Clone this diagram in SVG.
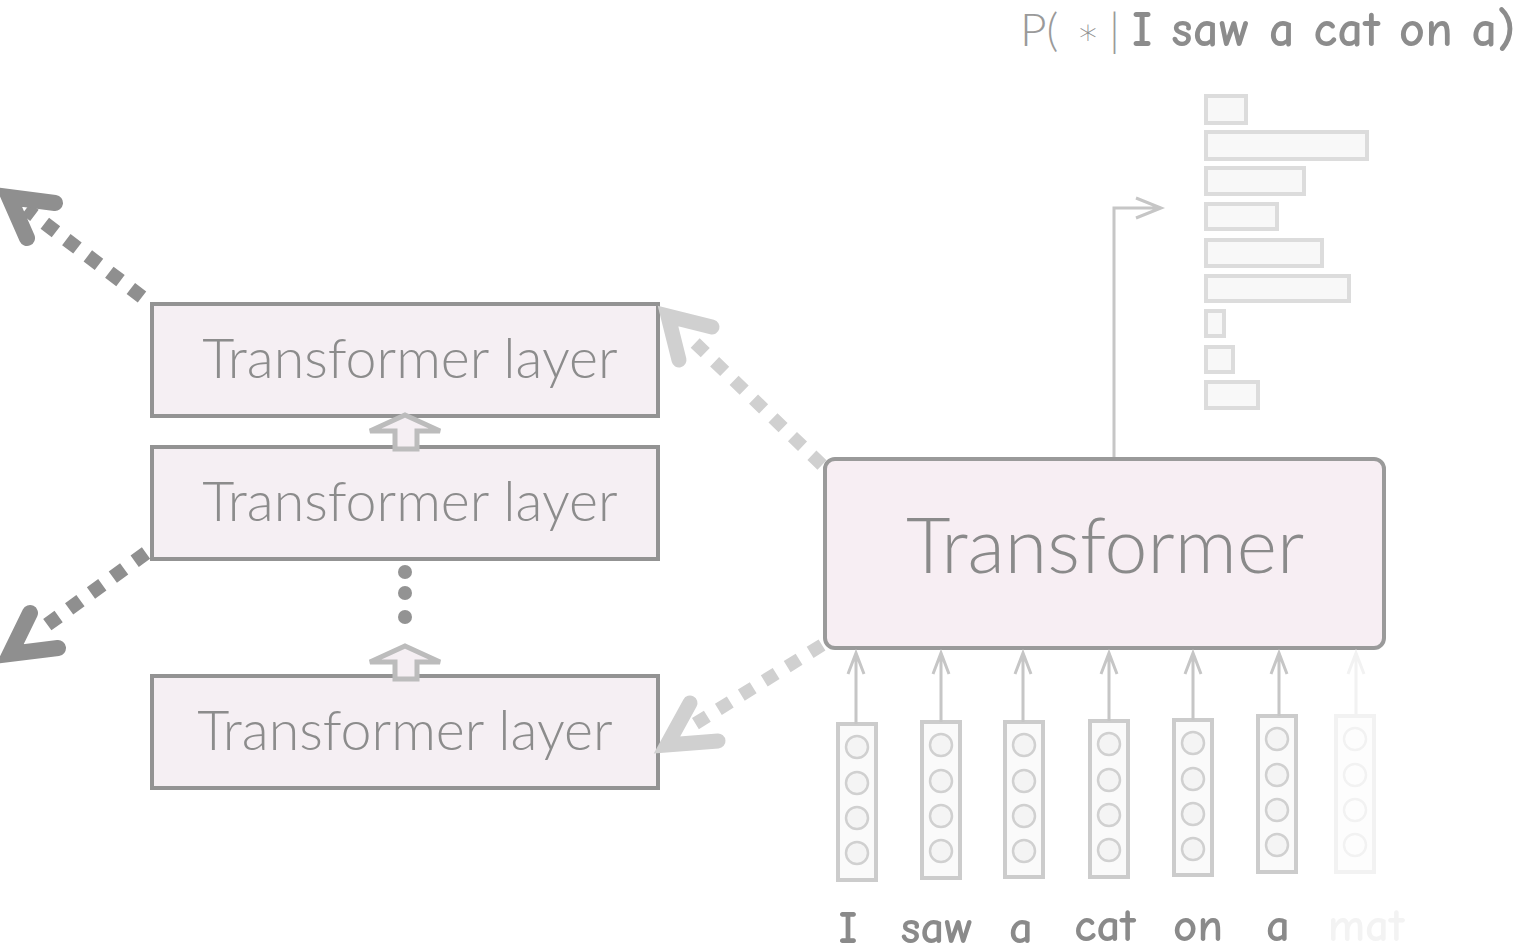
<svg xmlns="http://www.w3.org/2000/svg" width="1519" height="952" viewBox="0 0 1519 952">
  <style>
    .layer rect { fill: #f5eff3; stroke: #939393; stroke-width: 4; }
    .layer text { font-family: Lato, "Open Sans", sans-serif; font-weight: 300; font-size: 55.5px; fill: #8c8c8c; text-anchor: middle; }
    .hollow { fill: #f5eff3; stroke: #bcbcbc; stroke-width: 5; stroke-linejoin: miter; }
    .dots circle { fill: #939393; }
    .dash-dark { stroke: #8f8f8f; stroke-width: 14; stroke-dasharray: 14 13; fill: none; }
    .dash-light { stroke: #d0d0d0; stroke-width: 13; stroke-dasharray: 14 13; fill: none; }
    .head-dark { stroke: #8f8f8f; stroke-width: 16; fill: none; stroke-linecap: round; stroke-linejoin: miter; stroke-miterlimit: 10; }
    .head-light { stroke: #d0d0d0; stroke-width: 15; fill: none; stroke-linecap: round; stroke-linejoin: miter; stroke-miterlimit: 10; }
    .vec rect { fill: #fafafa; stroke: #cccccc; stroke-width: 4; }
    .vec circle { fill: #f4f4f4; stroke: #d0d0d0; stroke-width: 2.5; }
    .vec.faint rect, .vec.faint circle { stroke: #f2f2f2; fill: #fdfdfd; }
    .in-arrow { stroke: #c6c6c6; stroke-width: 3; fill: none; }
    .in-arrow.faint { stroke: #f2f2f2; }
    .word { font-family: "Comic Neue", "DejaVu Sans", sans-serif; font-weight: 700; font-size: 47px; fill: #8a8a8a; text-anchor: middle; }
    .word.faint { fill: #f3f3f3; }
    .bar { fill: #f8f8f8; stroke: #dcdcdc; stroke-width: 4; }
  </style>
  <defs>
    <filter id="soft" x="-5%" y="-5%" width="110%" height="110%">
      <feGaussianBlur stdDeviation="0.7"/>
    </filter>
  </defs>

  <rect width="1519" height="952" fill="#ffffff"/>

  <!-- left: stack of transformer layers -->
  <g id="layer-top" class="layer">
    <rect x="152" y="304" width="506" height="112"/>
    <text x="410" y="378">Transformer layer</text>
  </g>
  <g id="layer-mid" class="layer">
    <rect x="152" y="447" width="506" height="112"/>
    <text x="410" y="521">Transformer layer</text>
  </g>
  <g id="layer-bottom" class="layer">
    <rect x="152" y="676" width="506" height="112"/>
    <text x="405" y="750">Transformer layer</text>
  </g>

  <!-- hollow arrows between layers -->
  <g id="stack-flow">
    <path class="hollow" d="M405,415 L440,431 L417,431 L417,449 L395,449 L395,431 L370,431 Z"/>
    <path class="hollow" d="M405,646 L440,662 L417,662 L417,679 L395,679 L395,662 L370,662 Z"/>
    <g class="dots">
      <circle cx="405" cy="572" r="7"/>
      <circle cx="405" cy="593" r="7"/>
      <circle cx="405" cy="617" r="7"/>
    </g>
  </g>

  <!-- right: transformer with inputs and output distribution -->
  <g id="transformer" filter="url(#soft)">
    <rect x="825" y="459" width="559" height="189" rx="10" fill="#f7eef3" stroke="#9a9a9a" stroke-width="4"/>
    <text x="1105" y="573" font-family="Lato, 'Open Sans', sans-serif" font-weight="300" font-size="77" fill="#8a8a8a" text-anchor="middle">Transformer</text>
  </g>

  <g id="distribution" filter="url(#soft)">
    <rect class="bar" x="1206" y="96" width="40" height="27"/>
    <rect class="bar" x="1206" y="132" width="161" height="27"/>
    <rect class="bar" x="1206" y="168" width="98" height="26"/>
    <rect class="bar" x="1206" y="204" width="71" height="25"/>
    <rect class="bar" x="1206" y="240" width="116" height="26"/>
    <rect class="bar" x="1206" y="276" width="143" height="25"/>
    <rect class="bar" x="1206" y="311" width="18" height="25"/>
    <rect class="bar" x="1206" y="347" width="27" height="25"/>
    <rect class="bar" x="1206" y="382" width="52" height="26"/>
  </g>

  <g id="output-label">
    <text x="1020" y="46" font-size="46" fill="#9a9a9a" font-family="Lato, sans-serif" font-weight="300">P(<tspan font-family="'DejaVu Sans', sans-serif" font-size="36" fill="#8f8f8f" dx="18" dy="-2">∗</tspan><tspan dx="10" dy="2">|</tspan><tspan dx="12" font-family="'Comic Neue', 'DejaVu Sans', sans-serif" font-weight="700" font-size="50" fill="#8c8c8c" letter-spacing="0.6">I saw a cat on a)</tspan></text>
  </g>

  <g id="inputs" filter="url(#soft)">
    <g id="vec-1" class="vec">
      <rect x="838" y="724" width="38" height="156"/>
      <circle cx="857" cy="747" r="11"/><circle cx="857" cy="783" r="11"/><circle cx="857" cy="818" r="11"/><circle cx="857" cy="853" r="11"/>
      <text class="word" x="848" y="943">I</text>
    </g>
    <g id="vec-2" class="vec">
      <rect x="922" y="722" width="38" height="156"/>
      <circle cx="941" cy="745" r="11"/><circle cx="941" cy="781" r="11"/><circle cx="941" cy="816" r="11"/><circle cx="941" cy="851" r="11"/>
      <text class="word" x="937" y="943">saw</text>
    </g>
    <g id="vec-3" class="vec">
      <rect x="1005" y="722" width="38" height="155"/>
      <circle cx="1024" cy="745" r="11"/><circle cx="1024" cy="781" r="11"/><circle cx="1024" cy="816" r="11"/><circle cx="1024" cy="851" r="11"/>
      <text class="word" x="1021" y="943">a</text>
    </g>
    <g id="vec-4" class="vec">
      <rect x="1090" y="721" width="38" height="156"/>
      <circle cx="1109" cy="744" r="11"/><circle cx="1109" cy="780" r="11"/><circle cx="1109" cy="815" r="11"/><circle cx="1109" cy="850" r="11"/>
      <text class="word" x="1105" y="941">cat</text>
    </g>
    <g id="vec-5" class="vec">
      <rect x="1174" y="720" width="38" height="155"/>
      <circle cx="1193" cy="743" r="11"/><circle cx="1193" cy="779" r="11"/><circle cx="1193" cy="814" r="11"/><circle cx="1193" cy="849" r="11"/>
      <text class="word" x="1198" y="941">on</text>
    </g>
    <g id="vec-6" class="vec">
      <rect x="1258" y="716" width="38" height="156"/>
      <circle cx="1277" cy="739" r="11"/><circle cx="1277" cy="775" r="11"/><circle cx="1277" cy="810" r="11"/><circle cx="1277" cy="845" r="11"/>
      <text class="word" x="1278" y="941">a</text>
    </g>
    <g id="vec-7" class="vec faint">
      <rect x="1336" y="716" width="38" height="156"/>
      <circle cx="1355" cy="739" r="11"/><circle cx="1355" cy="775" r="11"/><circle cx="1355" cy="810" r="11"/><circle cx="1355" cy="845" r="11"/>
      <text class="word faint" x="1366" y="941">mat</text>
    </g>
  </g>

  <g id="connectors">
    <!-- token vectors into the transformer -->
    <g filter="url(#soft)">
      <path class="in-arrow" d="M856,724 V653 M848,674 L856,653 L864,674"/>
      <path class="in-arrow" d="M941,722 V653 M933,674 L941,653 L949,674"/>
      <path class="in-arrow" d="M1023,722 V653 M1015,674 L1023,653 L1031,674"/>
      <path class="in-arrow" d="M1109,721 V653 M1101,674 L1109,653 L1117,674"/>
      <path class="in-arrow" d="M1193,720 V653 M1185,674 L1193,653 L1201,674"/>
      <path class="in-arrow" d="M1279,716 V653 M1271,674 L1279,653 L1287,674"/>
      <path class="in-arrow faint" d="M1356,716 V653 M1348,674 L1356,653 L1364,674"/>
      <!-- transformer output to the distribution -->
      <path class="in-arrow" d="M1114,457 V208 H1160 M1136,198 L1161,208 L1136,218"/>
    </g>

    <!-- zoom-out dotted arrows -->
    <path class="dash-light" d="M822,465 L690,338"/>
    <polyline class="head-light" points="712,327 668,316 679,360"/>
    <path class="dash-light" d="M822,645 L690,727"/>
    <polyline class="head-light" points="690,703 667,745 718,741"/>

    <!-- dotted arrows leaving the stack -->
    <path class="dash-dark" d="M142,297 L26,209"/>
    <polyline class="head-dark" points="55,203 9,197 27,238"/>
    <path class="dash-dark" d="M146,553 L40,630"/>
    <polyline class="head-dark" points="30,613 10,654 58,648"/>
  </g>
</svg>
